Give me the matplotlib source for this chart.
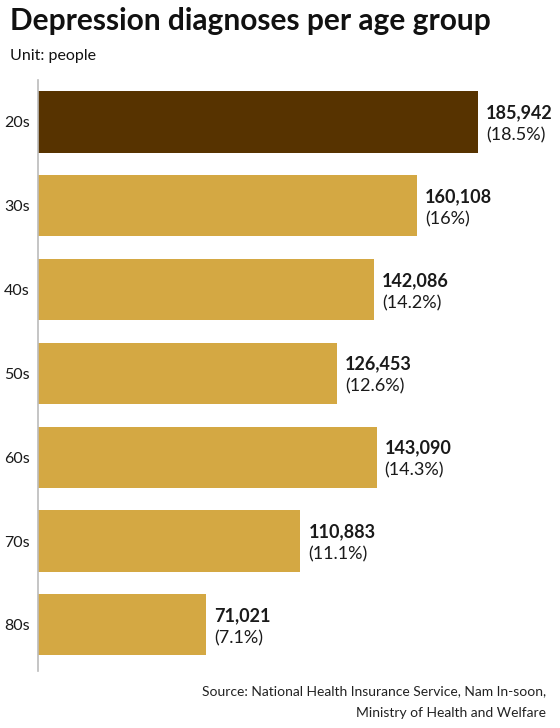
import matplotlib
matplotlib.use("Agg")
import matplotlib.pyplot as plt

ages = ["20s", "30s", "40s", "50s", "60s", "70s", "80s"]
counts = [185942, 160108, 142086, 126453, 143090, 110883, 71021]
shares = ["18.5%", "16%", "14.2%", "12.6%", "14.3%", "11.1%", "7.1%"]

plt.rcParams['font.family'] = ['Lato', 'DejaVu Sans']

fig = plt.figure(figsize=(5.6, 7.28), dpi=100)
ax = fig.add_axes([38 / 560, 1 - 671 / 728, 500 / 560, (671 - 80) / 728])

colors = ['#573300'] + ['#d4a843'] * (len(ages) - 1)
pos = list(range(len(ages)))
ax.barh(pos, counts, height=0.73, color=colors, edgecolor='none')

scale = 185942 * 500 / 440
ax.set_xlim(0, scale)
ax.set_ylim(6.55, -0.5)

# etiquettes de valeur a droite des barres
for i, (c, s) in enumerate(zip(counts, shares)):
    x = c + scale * 8 / 500
    ax.text(x, i - 0.11, f"{c:,}", fontsize=13, fontweight='bold',
            color='#1a1a1a', va='center', ha='left')
    ax.text(x, i + 0.16, f"({s})", fontsize=13, color='#1a1a1a',
            va='center', ha='left')

ax.set_yticks(pos)
ax.set_yticklabels(ages, fontsize=11.5, color='#1a1a1a')
ax.tick_params(axis='y', length=0, pad=6)
ax.set_xticks([])
for sp in ['top', 'right', 'bottom']:
    ax.spines[sp].set_visible(False)
ax.spines['left'].set_color('#bbbbbb')
ax.spines['left'].set_linewidth(1.2)

fig.text(10 / 560, 1 - 30 / 728, "Depression diagnoses per age group",
         fontsize=21.5, fontweight='bold', color='#111111', ha='left', va='baseline')
fig.text(10 / 560, 1 - 60 / 728, "Unit: people", fontsize=11.5,
         color='#111111', ha='left', va='baseline')
fig.text(546 / 560, 1 - 695 / 728, "Source: National Health Insurance Service, Nam In-soon,",
         fontsize=10, color='#222222', ha='right', va='baseline')
fig.text(546 / 560, 1 - 717 / 728, "Ministry of Health and Welfare",
         fontsize=10, color='#222222', ha='right', va='baseline')

fig.savefig("out.png", dpi=100, facecolor='white')
